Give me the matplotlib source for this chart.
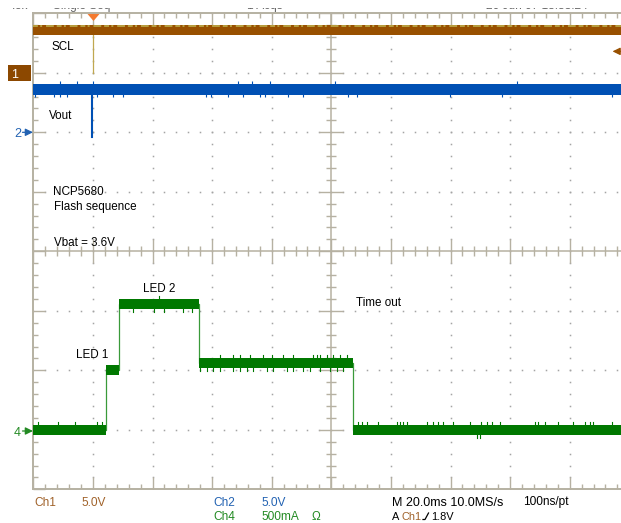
import numpy as np
import matplotlib
matplotlib.use("Agg")
import matplotlib.pyplot as plt
from matplotlib.collections import LineCollection
from matplotlib.patches import Rectangle

plt.rcParams['font.family'] = ['Liberation Sans', 'DejaVu Sans']

time_per_div_ms = 20.0
ch1_volts_per_div = 5.0
ch2_volts_per_div = 5.0
ch4_ma_per_div = 500.0
ch1_ground_div = 3.0
ch2_ground_div = 2.0
ch4_ground_div = -3.0
trigger_level_v = 1.8

scl_high_v = 3.6
scl_trigger_ms = 19.9
scl_trigger_low_v = 0.0

vout_level_v = 3.6
vout_spike_ms = 19.7
vout_spike_v = -0.4
vout_glitch_up_ms = [9.0, 14.6, 20.1, 68.8, 73.3, 79.4, 101.2, 162.4]
vout_glitch_down_ms = [0.6, 7.0, 9.0, 11.2, 21.3, 26.8, 30.2, 57.9, 59.5, 65.4,
                       70.5, 76.1, 77.8, 85.6, 90.6, 105.7, 108.5, 139.8, 157.2, 194.1]

led_edges_ms = [0.0, 24.4, 28.8, 55.7, 107.2, 200.0]
led_current_ma = [0, 500, 1055, 560, 0]
led_glitch_up_ms = [1.7, 8.4, 14.0, 21.3, 23.0, 42.2,
                    62.7, 67.0, 69.4, 72.7, 77.0, 80.0, 83.8, 87.1, 93.8, 95.2,
                    96.2, 98.6, 100.6, 102.9, 105.2,
                    109.1, 110.2, 111.9, 115.8, 121.9, 123.1, 124.2, 125.3, 132.0,
                    134.2, 135.9, 137.6, 140.9, 146.5, 150.4, 152.1, 153.8, 156.6,
                    168.3, 169.5, 171.7, 176.2, 181.2, 185.2, 186.8, 187.9, 194.1]
led_glitch_down_ms = [33.4, 40.5, 43.9, 50.3, 53.2,
                      55.9, 58.3, 60.3, 62.7, 67.0, 69.4, 71.7, 73.7, 78.4, 80.4,
                      85.1, 87.1, 90.5, 92.8, 96.2, 99.6, 101.9, 103.9, 148.8, 149.9]

labels_trace = {"SCL": (51.7, 50), "Vout": (49.3, 119),
                "NCP5680": (53.3, 195), "Flash sequence": (54, 210.3),
                "Vbat = 3.6V": (54.3, 245.5), "LED 2": (143.3, 292.5),
                "LED 1": (76, 358), "Time out": (356, 306.5)}

# ---------------- styling ----------------
W, H = 621, 523
BROWN = '#985000'
BROWN_TXT = '#a0622a'
BLUE = '#0050b4'
BLUE_TXT = '#2262b2'
GREEN = '#007800'
GREEN_EDGE = '#3a9a3a'
GREEN_TXT = '#238a23'
GRAT = '#b6b1a2'
DOT = '#a4a4a4'
HALF = 0.085   # half thickness of the noisy trace band (div)
GL = 0.05      # glitch height (div)

def fx(x):
    return x / W

def fy(y):
    return 1 - y / H

fig = plt.figure(figsize=(W / 100, H / 100), dpi=100)
fig.patch.set_facecolor('white')
ax = fig.add_axes([fx(33.3), fy(489.3), 596 / W, 476 / H])
ax.set_xlim(0, 10)
ax.set_ylim(-4, 4)
ax.set_facecolor('white')

# ---------------- graticule ----------------
for s in ['top', 'left', 'bottom']:
    ax.spines[s].set_color(GRAT)
    ax.spines[s].set_linewidth(1.4)
ax.spines['right'].set_visible(False)
ax.set_xticks(np.arange(0, 11, 1))
ax.set_xticks(np.arange(0, 10.01, 0.2), minor=True)
ax.set_yticks(np.arange(-4, 5, 1))
ax.set_yticks(np.arange(-4, 4.01, 0.2), minor=True)
ax.tick_params(which='both', direction='in', top=True, bottom=True, left=True,
               right=False, labelbottom=False, labelleft=False, color=GRAT, width=1.0)
ax.tick_params(which='major', length=8.6)
ax.tick_params(which='minor', length=3.6)

# dotted grid
dots_x, dots_y = [], []
for k in range(1, 10):
    if k == 5:
        continue
    yy = np.arange(-4, 4.01, 0.2)
    dots_x += [k] * len(yy)
    dots_y += list(yy)
for k in range(-3, 4):
    if k == 0:
        continue
    xx = np.arange(0, 10.01, 0.2)
    dots_x += list(xx)
    dots_y += [k] * len(xx)
ax.plot(dots_x, dots_y, ls='none', marker='s', ms=1.1, mew=0, color=DOT, zorder=1)

# centre crosshair
ax.axhline(0, color=GRAT, lw=1.1, zorder=1)
ax.axvline(5, color=GRAT, lw=1.1, zorder=1)
segs = []
for xv in np.arange(0, 10.01, 0.2):
    major = abs(xv - round(xv)) < 1e-6
    d = 0.2 if major else 0.084
    segs.append([(xv, -d), (xv, d)])
for yv in np.arange(-4, 4.01, 0.2):
    major = abs(yv - round(yv)) < 1e-6
    d = 0.2 if major else 0.084
    segs.append([(5 - d, yv), (5 + d, yv)])
ax.add_collection(LineCollection(segs, colors=GRAT, linewidths=1.0, zorder=1))

# ---------------- traces ----------------
tdiv = lambda t: np.asarray(t, dtype=float) / time_per_div_ms

# Ch1 SCL
y1 = ch1_ground_div + scl_high_v / ch1_volts_per_div
xt = tdiv(scl_trigger_ms)
ax.plot([xt, xt], [y1, ch1_ground_div + scl_trigger_low_v / ch1_volts_per_div],
        color='#c0a850', lw=0.9, zorder=4)
ax.fill_between([0, 10], y1 - HALF, y1 + HALF, color=BROWN, lw=0, zorder=5)
ax.plot([0, 10], [y1 + HALF - 0.015] * 2, color='#b8a040', lw=1.4,
        dashes=(2.5, 1.2, 1, 2.0, 4, 1.5), zorder=6)

# Ch2 Vout
y2 = ch2_ground_div + vout_level_v / ch2_volts_per_div
ax.fill_between([0, 10], y2 - HALF, y2 + HALF, color=BLUE, lw=0, zorder=5)
xs = tdiv(vout_spike_ms)
ax.plot([xs, xs], [y2, ch2_ground_div + vout_spike_v / ch2_volts_per_div],
        color=BLUE, lw=1.5, zorder=5)
ax.vlines(tdiv(vout_glitch_up_ms), y2 + HALF - 0.01, y2 + HALF + GL, color=BLUE, lw=0.8, zorder=5)
ax.vlines(tdiv(vout_glitch_down_ms), y2 - HALF - GL, y2 - HALF + 0.01, color=BLUE, lw=0.8, zorder=5)

# Ch4 LED current
edges = tdiv(led_edges_ms)
lev = ch4_ground_div + np.asarray(led_current_ma, float) / ch4_ma_per_div
ax.step(edges, np.append(lev, lev[-1]), where='post', color=GREEN_EDGE, lw=0.9, zorder=4)
for i in range(len(lev)):
    ax.fill_between([edges[i], edges[i + 1]], lev[i] - HALF, lev[i] + HALF,
                    color=GREEN, lw=0, zorder=5)

def led_level(t):
    i = np.searchsorted(led_edges_ms, t, side='right') - 1
    i = min(max(i, 0), len(lev) - 1)
    return lev[i]

for t in led_glitch_up_ms:
    L = led_level(t)
    ax.plot([tdiv(t)] * 2, [L + HALF - 0.01, L + HALF + GL], color=GREEN, lw=0.8, zorder=5)
for t in led_glitch_down_ms:
    L = led_level(t)
    ax.plot([tdiv(t)] * 2, [L - HALF - GL, L - HALF + 0.01], color=GREEN, lw=0.8, zorder=5)

# trigger position marker (top)
ax.plot([xt], [3.945], marker=[(-6, 3.5), (6, 3.5), (0, -3.5)], ms=8.6, mew=0,
        color='#f47a30', clip_on=False, zorder=10)

# ---------------- text on screen ----------------
for txt, (px, py) in labels_trace.items():
    fig.text(fx(px), fy(py), txt, fontsize=8.4, color='black', va='baseline', ha='left')

# channel ground markers
fig.patches.append(Rectangle((fx(8.3), fy(80.5)), 22.7 / W, 15.5 / H,
                             transform=fig.transFigure, color='#8c4800', lw=0))
fig.text(fx(11.5), fy(77.5), '1', color='white', fontsize=9, va='baseline')
arrow_props = lambda c: dict(arrowstyle='-|>,head_length=0.45,head_width=0.22',
                             color=c, lw=0.9, shrinkA=0, shrinkB=0)
ax.annotate('', xy=(fx(30.5), fy(72.8)), xytext=(fx(20.5), fy(72.8)),
            xycoords='figure fraction', arrowprops=arrow_props('white'))
fig.text(fx(14.5), fy(137), '2', color=BLUE_TXT, fontsize=9, va='baseline')
ax.annotate('', xy=(fx(33), fy(132.3)), xytext=(fx(22.5), fy(132.3)),
            xycoords='figure fraction', arrowprops=arrow_props(BLUE_TXT))
fig.text(fx(13.5), fy(436), '4', color=GREEN_TXT, fontsize=9, va='baseline')
ax.annotate('', xy=(fx(33), fy(431)), xytext=(fx(22.5), fy(431)),
            xycoords='figure fraction', arrowprops=arrow_props(GREEN_TXT))

# trigger level marker (right)
ytrig_px = 251.3 - (ch1_ground_div + trigger_level_v / ch1_volts_per_div) * 59.5
ax.annotate('', xy=(fx(612.5), fy(ytrig_px)), xytext=(fx(621), fy(ytrig_px)),
            xycoords='figure fraction', arrowprops=arrow_props(BROWN))

# bottom status lines
fs = 8.6
row1, row2 = 505.5, 520
fig.text(fx(34), fy(row1), 'Ch1', color=BROWN_TXT, fontsize=fs)
fig.text(fx(82), fy(row1), '5.0V', color=BROWN_TXT, fontsize=fs)
fig.text(fx(213.5), fy(row1), 'Ch2', color=BLUE_TXT, fontsize=fs)
fig.text(fx(261), fy(row1), '5.0V', color=BLUE_TXT, fontsize=fs)
fig.text(fx(213.5), fy(row2), 'Ch4', color=GREEN_TXT, fontsize=fs)
fig.text(fx(261), fy(row2), '500mA', color=GREEN_TXT, fontsize=fs)
fig.text(fx(312), fy(row2), 'Ω', color=GREEN_TXT, fontsize=fs)
fig.text(fx(392), fy(row1), 'M 20.0ms 10.0MS/s', color='black', fontsize=fs + 0.4)
fig.text(fx(523), fy(row1), '100ns/pt', color='black', fontsize=fs)
fs2 = 7.9
fig.text(fx(392), fy(row2), 'A', color='black', fontsize=fs2)
fig.text(fx(402), fy(row2), 'Ch1', color=BROWN_TXT, fontsize=fs2)
fig.add_artist(plt.Line2D([fx(423), fx(425), fx(428.5)], [fy(519.5), fy(519.5), fy(513)],
                          transform=fig.transFigure, color='black', lw=0.9))
fig.text(fx(431), fy(row2), '1.8V', color='black', fontsize=fs2)

# header line, cut off at the top edge of the screenshot
for txt, px in [('Tek', 10), ('Single Seq', 53), ('1 Acqs', 247), ('20 Jun 07 13:38:24', 486)]:
    fig.text(fx(px), fy(9.4), txt, color='#666666', fontsize=8.6, va='baseline', zorder=2)
fig.add_artist(Rectangle((0, fy(7.6)), 1, 7.6 / H + 0.01, transform=fig.transFigure,
                         facecolor='white', edgecolor='none', lw=0, zorder=20))

fig.savefig('out.png', dpi=100, facecolor='white')
